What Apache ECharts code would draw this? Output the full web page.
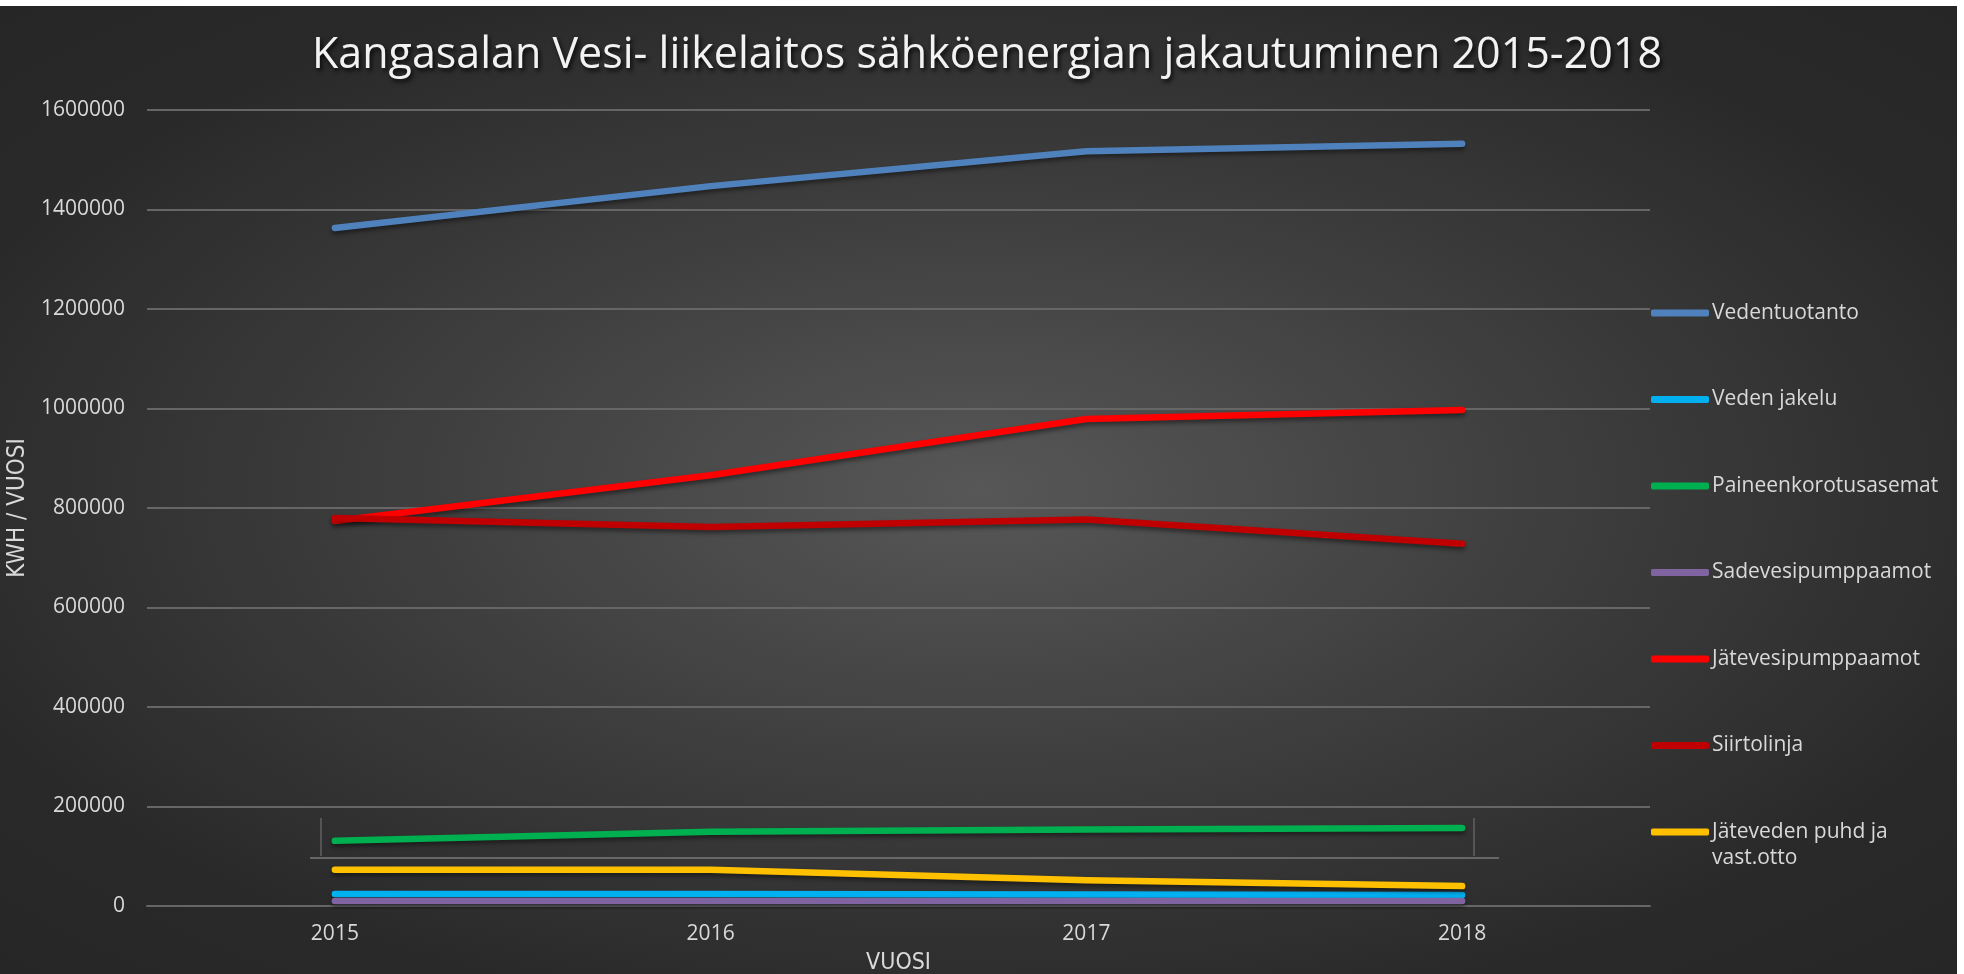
<!DOCTYPE html>
<html>
<head>
<meta charset="utf-8">
<script src="https://cdn.jsdelivr.net/npm/echarts@6/dist/echarts.min.js"></script>
<style>
    body {margin: 0; background: #ffffff;}
    #main {
        position: absolute; left: 0; top: 6px; width: 1957px; height: 968px;
        background: radial-gradient(ellipse at 50% 50%, #575757 0%, #3c3c3c 45%, #292929 80%, #262626 100%);
    }
</style>
</head>
<body>
<div id="main"></div>
<script>
const years = ['2015', '2016', '2017', '2018'];
const yTicks = {min: 0, max: 1600000, step: 200000};

const vedentuotanto = [1363000, 1447000, 1517000, 1532000];
const vedenJakelu = [24000, 24000, 23000, 22000];
const paineenkorotus = [131000, 149000, 154000, 157000];
const sadevesi = [10000, 10000, 10000, 10000];
const jatevesi = [774000, 866000, 979000, 997000];
const siirtolinja = [780000, 762000, 777000, 728000];
const jatevedenPuhd = [73000, 73000, 52000, 40000];

const names = ['Vedentuotanto', 'Veden jakelu', 'Paineenkorotusasemat', 'Sadevesipumppaamot',
    'Jätevesipumppaamot', 'Siirtolinja', 'Jäteveden puhd ja vast.otto'];
const colors = ['#4f81bd', '#00b0f0', '#00b050', '#8064a2', '#ff0000', '#c00000', '#ffc000'];
const values = [vedentuotanto, vedenJakelu, paineenkorotus, sadevesi, jatevesi, siirtolinja, jatevedenPuhd];

var myChart = echarts.init(document.getElementById('main'));

const labelFont = {color: '#d9d9d9', fontFamily: 'Open Sans', fontSize: 21};
const narrowFont = "'DejaVu Sans Condensed', 'Roboto Condensed', Roboto, sans-serif";

let series = [];
for (let i = 0; i < names.length; i++) {
    series.push({
        name: names[i],
        type: 'line',
        data: values[i],
        symbol: 'none',
        color: colors[i],
        lineStyle: {
            width: 6.5,
            cap: 'round',
            join: 'round',
            shadowColor: 'rgba(0,0,0,0.45)',
            shadowBlur: 4,
            shadowOffsetY: 3
        }
    });
}

const legendBase = {
    orient: 'vertical',
    left: 1646,
    itemWidth: 58,
    itemHeight: 7,
    icon: 'roundRect',
    textStyle: {color: '#d9d9d9', fontFamily: 'Open Sans', fontSize: 21, lineHeight: 26, padding: [0, 0, 0, -2]}
};

myChart.setOption({
    backgroundColor: 'transparent',
    title: {
        text: 'Kangasalan Vesi- liikelaitos sähköenergian jakautuminen 2015-2018',
        left: 982,
        textAlign: 'center',
        top: 23,
        textStyle: {
            color: '#f2f2f2',
            fontFamily: 'Open Sans',
            fontWeight: 'normal',
            fontSize: 43,
            textShadowColor: 'rgba(0,0,0,0.8)',
            textShadowBlur: 4,
            textShadowOffsetX: 2,
            textShadowOffsetY: 3
        }
    },
    legend: [
        Object.assign({}, legendBase, {
            top: 289,
            itemGap: 60.5,
            data: names.slice(0, 6)
        }),
        Object.assign({}, legendBase, {
            top: 782,
            data: names.slice(6),
            formatter: function (name) {
                return '\nJäteveden puhd ja\nvast.otto';
            }
        })
    ],
    grid: {left: 147, right: 307, top: 104, bottom: 68, containLabel: false, outerBoundsMode: 'none'},
    xAxis: {
        type: 'category',
        data: years,
        boundaryGap: true,
        name: 'VUOSI',
        nameLocation: 'middle',
        nameGap: 46,
        nameTextStyle: {color: '#d9d9d9', fontFamily: narrowFont, fontSize: 23},
        axisLine: {lineStyle: {color: '#666666', width: 2}},
        axisTick: {show: false},
        axisLabel: Object.assign({margin: 18}, labelFont)
    },
    yAxis: {
        type: 'value',
        min: yTicks.min,
        max: yTicks.max,
        interval: yTicks.step,
        name: 'KWH / VUOSI',
        nameLocation: 'middle',
        nameGap: 99,
        nameTextStyle: {color: '#d9d9d9', fontFamily: narrowFont, fontSize: 24},
        axisLine: {show: false},
        axisTick: {show: false},
        axisLabel: Object.assign({margin: 22, formatter: function (v) { return String(v); }}, labelFont),
        splitLine: {lineStyle: {color: '#666666', width: 2}}
    },
    graphic: [
        {type: 'line', shape: {x1: 321, y1: 812, x2: 321, y2: 850}, style: {stroke: '#7a7a7a', lineWidth: 1}, silent: true},
        {type: 'line', shape: {x1: 1474, y1: 812, x2: 1474, y2: 850}, style: {stroke: '#7a7a7a', lineWidth: 1}, silent: true},
        {type: 'line', shape: {x1: 310, y1: 852, x2: 1499, y2: 852}, style: {stroke: '#7a7a7a', lineWidth: 1.5}, silent: true}
    ],
    series: series
});
</script>
</body>
</html>
